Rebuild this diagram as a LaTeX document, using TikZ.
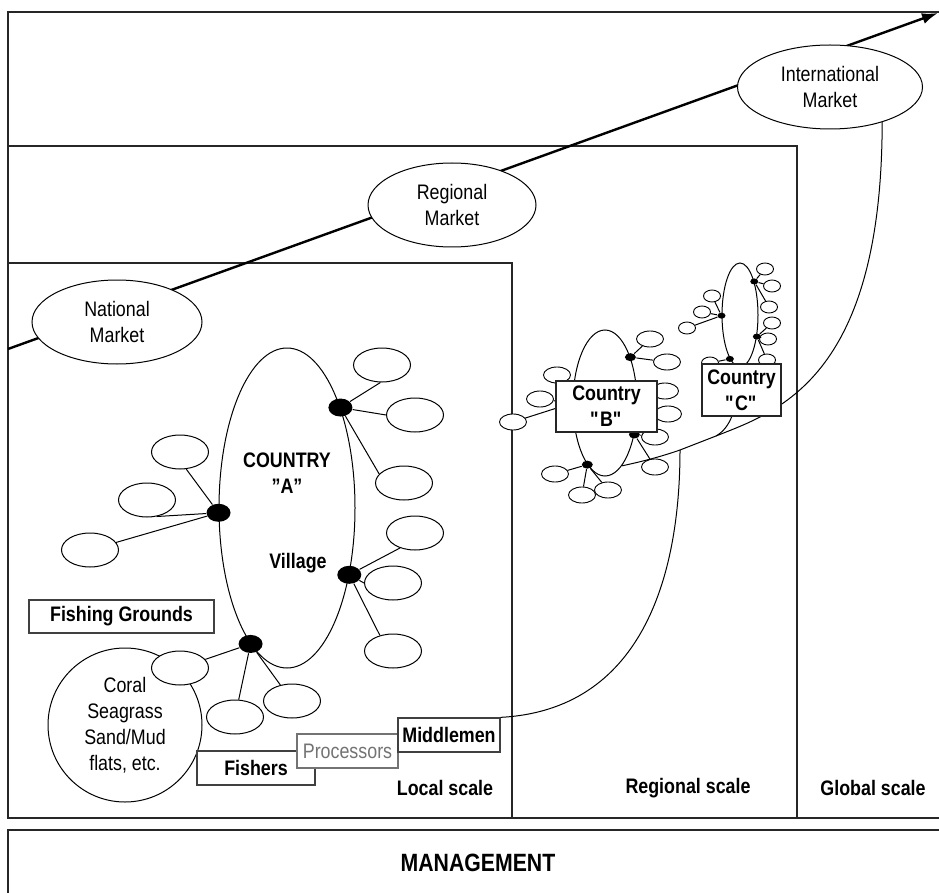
\documentclass[tikz,border=0pt]{standalone}
\usepackage{fontspec}
\setsansfont{Liberation Sans}[FakeStretch=0.85]
\usetikzlibrary{shapes.geometric,arrows.meta}

\begin{document}
\begin{tikzpicture}[x=1pt, y=-1pt, line width=1pt]
        \tikzstyle{every node}=[font=\sffamily\fontsize{21}{26}\selectfont, align=center, inner sep=0pt]
        \tikzstyle{zone}=[line width=1.6pt, draw=black!85]
        \tikzstyle{heading}=[font=\sffamily\bfseries\fontsize{21}{26}\selectfont]
        \tikzstyle{market}=[ellipse, draw, fill=white, minimum height=84pt]
        \tikzstyle{country}=[ellipse, draw]
        \tikzstyle{ground}=[ellipse, draw, fill=white, minimum width=57pt, minimum height=34pt]
        \tikzstyle{groundB}=[ellipse, draw, fill=white, line width=0.9pt, minimum width=27pt, minimum height=16pt]
        \tikzstyle{groundC}=[ellipse, draw, fill=white, line width=0.9pt, minimum width=17pt, minimum height=12pt]
        \tikzstyle{village}=[ellipse, fill=black, minimum width=24pt, minimum height=18pt]
        \tikzstyle{villageB}=[ellipse, fill=black, minimum width=11pt, minimum height=8pt]
        \tikzstyle{villageC}=[ellipse, fill=black, minimum width=8pt, minimum height=6pt]
        \tikzstyle{tag}=[draw=black!75, line width=1.3pt, fill=white, minimum height=34pt, heading]
        \clip (0,0) rectangle (939,893);
        \draw[zone] (8,12) rectangle (960,818);
        \draw[zone] (8,146) rectangle (797,818);
        \draw[zone] (8,263) rectangle (512,818);
        \draw[zone] (8,830) rectangle (960,910);
        \coordinate (a0) at (8,349);
        \coordinate (a1) at (938,13);
        \draw[line width=2.4pt, -{Latex[length=16pt, width=11pt]}] (a0) -- (a1);
        \node[market, minimum width=170pt] (nat) at (117,322) {National\\Market};
        \node[market, minimum width=168pt] (reg) at (452,205) {Regional\\Market};
        \node[market, minimum width=185pt] (int) at (830,87) {International\\Market};
        \node[country, minimum width=136pt, minimum height=320pt] (cA) at (287,508) {};
        \node[heading] (tA) at (287,473) {COUNTRY\\''A''};
        \node[heading] (tV) at (298,563) {Village};
        \node[circle, draw, minimum size=154pt] (reef) at (125,725) {Coral\\Seagrass\\Sand/Mud\\flats, etc.};
        \node[village] (vA1) at (cA.62) {};
        \node[village] (vA2) at (cA.184) {};
        \node[village] (vA3) at (cA.-47) {};
        \node[village] (vA4) at (cA.255) {};
        \node[ground] (gA1) at (382,365) {}; \node[ground] (gA2) at (415,415) {}; \node[ground] (gA3) at (404,483) {};
        \node[ground] (gA4) at (180,452) {}; \node[ground] (gA5) at (147,500) {}; \node[ground] (gA6) at (90,550) {};
        \node[ground] (gA7) at (415,533) {}; \node[ground] (gA8) at (393,583) {}; \node[ground] (gA9) at (393,651) {};
        \node[ground] (gA10) at (180,668) {}; \node[ground] (gA11) at (235,717) {}; \node[ground] (gA12) at (292,701) {};
        \draw (vA1) -- (gA1.-95); \draw (vA1) -- (gA2.west); \draw (vA1) -- (gA3.160);
        \draw (vA2) -- (gA4.-70); \draw (vA2) -- (gA5.-60); \draw (vA2) -- (gA6);
        \draw (vA3) -- (gA7.225); \draw (vA3) -- (gA8.west); \draw (vA3) -- (gA9.130);
        \draw (vA4) -- (gA10); \draw (vA4) -- (gA11); \draw (vA4) -- (gA12);
        \node[tag, minimum width=185pt, minimum height=33pt] (fg) at (121.5,616.5) {Fishing Grounds};
        \node[tag, minimum width=118pt] (fis) at (256,768) {Fishers};
        \node[tag, minimum width=101pt, font=\sffamily\fontsize{21}{26}\selectfont, draw=black!55, text=black!55] (pro) at (347.5,751) {Processors};
        \node[tag, minimum width=102pt] (mid) at (449,735) {Middlemen};
        \node[country, minimum width=64pt, minimum height=146pt] (cB) at (605,403) {};
        \node[villageB] (vB1) at (cB.61) {};
        \node[villageB] (vB2) at (cB.-47) {};
        \node[villageB] (vB3) at (cB.254) {};
        \coordinate (hB1) at (cB.180);
        \coordinate (hB2) at (cB.0);
        \node[groundB] (gB1) at (650,339) {}; \node[groundB] (gB2) at (667,362) {};
        \node[groundB] (gB3) at (665,391) {}; \node[groundB] (gB4) at (668,414) {};
        \node[groundB] (gB5) at (655,437) {}; \node[groundB] (gB6) at (655,467) {};
        \node[groundB] (gB7) at (555,474) {}; \node[groundB] (gB8) at (582,495) {}; \node[groundB] (gB9) at (608,490) {};
        \node[groundB] (gB10) at (557,375) {}; \node[groundB] (gB11) at (540,399) {}; \node[groundB] (gB12) at (513,422) {};
        \draw (vB1) -- (gB1); \draw (vB1) -- (gB2); \draw (hB2) -- (gB3); \draw (hB2) -- (gB4);
        \draw (vB2) -- (gB5); \draw (vB2) -- (gB6); \draw (vB3) -- (gB7); \draw (vB3) -- (gB8); \draw (vB3) -- (gB9);
        \draw (hB1) -- (gB10); \draw (hB1) -- (gB11); \draw (hB1) -- (gB12);
        \node[country, minimum width=36pt, minimum height=104pt] (cC) at (740,315) {};
        \node[villageC] (vC1) at (cC.67) {};
        \node[villageC] (vC2) at (cC.182) {};
        \node[villageC] (vC3) at (cC.-52) {};
        \node[villageC] (vC4) at (cC.257) {};
        \node[groundC] (gC1) at (765,269) {}; \node[groundC] (gC2) at (772,286) {}; \node[groundC] (gC3) at (769,307) {};
        \node[groundC] (gC4) at (712,296) {}; \node[groundC] (gC5) at (702,312) {}; \node[groundC] (gC6) at (687,328) {};
        \node[groundC] (gC7) at (772,323) {}; \node[groundC] (gC8) at (768,339) {}; \node[groundC] (gC9) at (767,360) {};
        \node[groundC] (gC10) at (710,363) {};
        \draw (vC1) -- (gC1); \draw (vC1) -- (gC2); \draw (vC1) -- (gC3);
        \draw (vC2) -- (gC4); \draw (vC2) -- (gC5); \draw (vC2) -- (gC6);
        \draw (vC3) -- (gC7); \draw (vC3) -- (gC8); \draw (vC3) -- (gC9); \draw (vC4) -- (gC10);
        \coordinate (jC) at (716,436);
        \coordinate (jM) at (680,450);
        \draw (int.-34) .. controls (882,380) and (776,412) .. (jC) -- (jM) .. controls (660,457) and (640,462) .. (cB.-75);
        \draw (mid.north east) .. controls (640,710) and (680,580) .. (jM);
        \draw (cC.south) .. controls (738,410) and (730,428) .. (jC);
        \node[tag, draw=black!85, minimum width=101pt, minimum height=51pt] (bxB) at (606.5,406.5) {Country\\\textquotedbl B\textquotedbl};
        \node[tag, draw=black!85, minimum width=79pt, minimum height=52pt] (bxC) at (741.5,390) {Country\\\textquotedbl C\textquotedbl};
        \node[heading] (ls) at (445,788) {Local scale};
        \node[heading] (rs) at (688,788) {Regional scale};
        \node[heading] (gs) at (873,788) {Global scale};
        \node[heading, font=\sffamily\bfseries\fontsize{25}{30}\selectfont] (man) at (478,863) {MANAGEMENT};
\end{tikzpicture}
\end{document}
